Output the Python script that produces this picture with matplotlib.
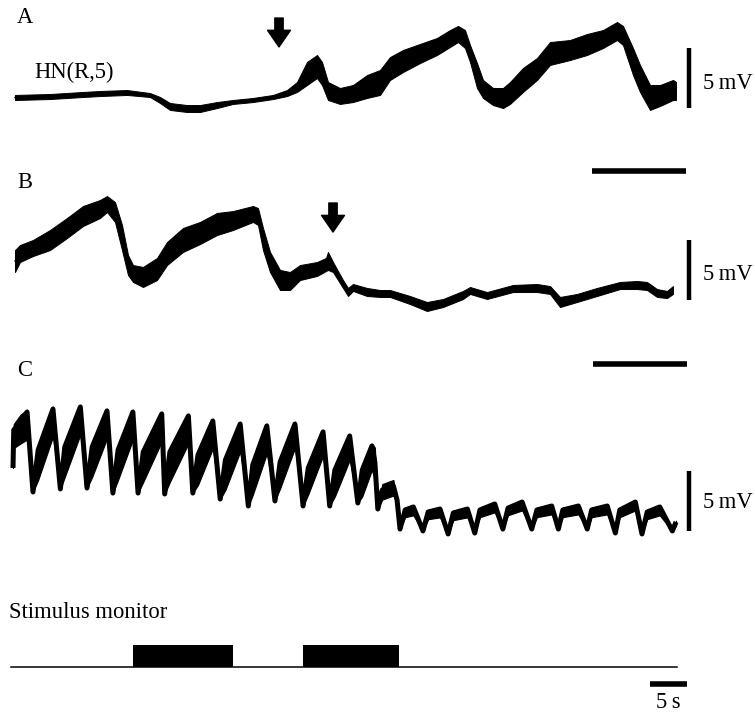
import matplotlib
matplotlib.use("Agg")
import matplotlib.pyplot as plt

plt.rcParams['font.family'] = ['Liberation Serif', 'DejaVu Serif']

# ---------------- data (time in s, membrane potential in mV, relative) ----------------
# Trace A: HN(R,5), envelope of the recorded band (upper / lower edge)
a_time = [0.0, 3.5, 6.8, 8.5, 11.2, 13.5, 14.5, 15.5, 17.2, 18.5, 20.2, 21.8, 23.8, 25.8,
          27.2, 28.2, 29.2, 30.2, 30.7, 31.3, 32.5, 33.8, 35.2, 36.5, 37.5, 38.8, 40.5,
          42.2, 43.5, 44.3, 45.0, 45.5, 46.2, 46.8, 47.8, 48.8, 49.5, 50.8, 52.2, 53.5,
          55.5, 57.2, 58.8, 60.2, 60.8, 61.8, 62.5, 63.5, 64.5, 65.8, 66.1]
a_high = [0.42, 0.5, 0.67, 0.75, 0.83, 0.58, 0.25, -0.25, -0.42, -0.42, -0.17, 0.0, 0.17,
          0.42, 0.83, 1.5, 3.17, 3.75, 3.17, 1.5, 1.0, 1.25, 2.08, 2.5, 3.58, 4.17, 4.67,
          5.17, 5.83, 6.17, 5.83, 4.58, 3.08, 1.67, 1.0, 1.0, 1.5, 2.67, 3.5, 4.83, 5.0,
          5.5, 5.83, 6.5, 6.17, 4.33, 2.92, 1.25, 1.25, 1.67, 1.5]
a_low = [0.0, 0.08, 0.25, 0.33, 0.42, 0.25, -0.25, -0.83, -1.0, -1.0, -0.67, -0.33, -0.17,
         0.08, 0.33, 0.67, 1.25, 1.83, 1.25, 0.0, -0.33, -0.17, 0.17, 0.42, 1.67, 2.33,
         3.08, 3.75, 4.42, 4.83, 4.33, 3.17, 1.0, 0.17, -0.42, -0.67, -0.33, 0.67, 1.67,
         2.92, 3.33, 3.75, 4.33, 5.0, 4.58, 2.08, 0.67, -0.83, -0.5, 0.0, 0.0]
a_arrow_time = 26.4

# Trace B
b_time = [0.0, 0.5, 1.8, 3.5, 5.2, 6.8, 8.5, 9.2, 10.0, 10.7, 11.3, 11.8, 12.8, 14.2, 15.2,
          16.8, 18.5, 20.2, 21.8, 23.8, 24.3, 24.8, 25.5, 26.5, 27.5, 28.5, 30.2, 31.1,
          31.3, 31.8, 32.8, 33.3, 33.8, 35.2, 36.5, 37.5, 39.5, 41.2, 42.8, 44.8, 45.5,
          47.2, 49.8, 52.2, 53.5, 54.5, 56.2, 58.2, 60.5, 62.2, 63.2, 64.2, 65.2, 65.8]
b_high = [3.33, 3.75, 4.17, 5.0, 6.0, 7.0, 7.5, 7.83, 7.33, 5.42, 2.92, 2.08, 1.92, 2.67,
          4.0, 5.17, 5.67, 6.42, 6.58, 7.0, 6.83, 5.17, 3.17, 1.67, 1.5, 2.08, 2.33, 2.67,
          3.17, 2.33, 0.83, 0.17, 0.5, 0.17, 0.0, 0.0, -0.5, -1.0, -0.75, -0.08, 0.25,
          -0.17, 0.42, 0.5, 0.33, -0.58, -0.33, 0.17, 0.67, 0.75, 0.67, 0.08, -0.08, 0.33]
b_low = [1.5, 2.33, 2.83, 3.33, 4.33, 5.33, 6.0, 6.5, 5.67, 3.33, 1.25, 0.67, 0.25, 0.83,
         2.08, 3.17, 3.83, 4.58, 5.0, 5.67, 5.42, 3.33, 1.5, 0.0, 0.0, 0.83, 1.17, 1.58,
         1.67, 1.5, 0.17, -0.5, -0.08, -0.5, -0.58, -0.58, -1.17, -1.75, -1.42, -0.75,
         -0.33, -0.75, -0.17, -0.17, -0.33, -1.42, -1.0, -0.5, 0.08, 0.08, 0.0, -0.58,
         -0.67, -0.33]
b_arrow_time = 31.8

# Trace C (peaks, troughs and knees of the oscillation, in order)
c_time = [0.0, 0.1, 1.0, 1.9, 2.7, 3.4, 5.4, 6.4, 7.0, 9.1, 10.0, 10.7, 12.7, 13.5, 14.2,
          16.2, 16.9, 17.6, 20.1, 20.5, 21.2, 23.7, 24.3, 25.0, 27.0, 28.0, 28.7, 30.7,
          31.8, 32.4, 34.3, 35.4, 36.1, 38.1, 39.2, 39.9, 41.9, 42.8, 43.5, 45.5, 46.6,
          47.2, 48.5, 48.9, 49.3, 49.9, 51.4, 51.9, 52.3, 53.0, 54.1, 55.4, 56.1, 57.7,
          58.8, 59.5, 61.4, 62.4, 63.1, 65.1, 66.2, 66.9, 68.8, 70.1, 70.8, 72.8, 73.7,
          74.3, 76.4, 77.6, 78.2, 80.3, 81.4, 82.0, 84.1, 85.0, 85.7, 87.4, 89.1, 89.6]
c_volt = [5.17, 8.33, 9.0, 9.83, 3.17, 6.67, 10.08, 3.42, 6.92, 10.25, 3.5, 6.92, 9.92,
          3.08, 6.67, 9.83, 3.08, 6.5, 9.67, 3.0, 6.5, 9.5, 3.08, 6.25, 9.08, 2.58, 5.83,
          8.83, 2.0, 5.42, 8.67, 2.42, 5.67, 8.83, 2.0, 5.17, 8.17, 2.0, 5.0, 7.83, 2.25,
          5.0, 7.0, 5.67, 1.75, 3.33, 3.67, 2.5, 0.08, 1.67, 1.92, -0.08, 1.5, 1.75, -0.33,
          1.42, 1.75, -0.25, 1.67, 2.17, 0.08, 1.83, 2.33, 0.08, 1.67, 2.0, 0.08, 1.67,
          2.0, 0.08, 1.67, 2.0, -0.25, 1.67, 2.33, -0.33, 1.5, 1.92, -0.08, 0.67]
# extent of the recorded band above / below those points (mV)
c_spike = [0.0, 0.5, 0.6, 0.2,
           0.0, 0.4, 0.2, 0.0, 0.4, 0.2, 0.0, 0.4, 0.2, 0.0, 0.4, 0.2, 0.0, 0.4, 0.2,
           0.0, 0.4, 0.2, 0.0, 0.4, 0.2, 0.0, 0.4, 0.2, 0.0, 0.4, 0.2, 0.0, 0.4, 0.2,
           0.0, 0.4, 0.2, 0.0, 0.4, 0.2, 0.0, 0.4, 0.2,
           1.2, 0.0, 0.5, 0.5, 0.0,
           0.0, 0.2, 0.1, 0.0, 0.2, 0.1, 0.0, 0.2, 0.1, 0.0, 0.2, 0.1, 0.0, 0.2, 0.1,
           0.0, 0.2, 0.1, 0.0, 0.2, 0.1, 0.0, 0.2, 0.1, 0.0, 0.2, 0.1, 0.0, 0.2, 0.1,
           0.0, 0.1]
c_below = [0.0, 1.5, 1.8, 2.3,
           0.0, 2.5, 2.3, 0.0, 2.5, 2.3, 0.0, 2.5, 2.3, 0.0, 2.5, 2.3, 0.0, 2.5, 2.3,
           0.0, 2.5, 2.3, 0.0, 2.5, 2.3, 0.0, 2.5, 2.3, 0.0, 2.5, 2.3, 0.0, 2.2, 2.0,
           0.0, 2.2, 2.0, 0.0, 2.2, 2.0, 0.0, 2.2, 2.0,
           1.5, 0.0, 0.8, 0.8, 0.0,
           0.0, 0.6, 0.7, 0.0, 0.6, 0.7, 0.0, 0.6, 0.7, 0.0, 0.6, 0.7, 0.0, 0.6, 0.7,
           0.0, 0.6, 0.7, 0.0, 0.6, 0.7, 0.0, 0.6, 0.7, 0.0, 0.6, 0.7, 0.0, 0.6, 0.7,
           0.0, 0.3]

# Stimulus monitor (on/off, same time base as C)
stim_time = [-0.3, 16.2, 16.2, 29.7, 29.7, 39.2, 39.2, 52.2, 52.2, 89.7]
stim_level = [0, 0, 1, 1, 0, 0, 1, 1, 0, 0]

# scale bars
volt_bar = 5.0          # mV
ab_time_bar = 9.4       # s (unlabelled bars of A and B)
c_time_bar = 5.0        # s

# ---------------- layout (pixel mapping of each panel) ----------------
W, H = 755, 714
fig = plt.figure(figsize=(W / 100, H / 100), dpi=100)


def panel(x0_px, px_per_s, y0_px, px_per_unit):
    ax = fig.add_axes([0, 0, 1, 1])
    ax.set_xlim(-x0_px / px_per_s, (W - x0_px) / px_per_s)
    ax.set_ylim((y0_px - H) / px_per_unit, y0_px / px_per_unit)
    ax.axis('off')
    ax.patch.set_alpha(0)
    return ax


axA = panel(15, 10.0, 100, 12.0)
axB = panel(15, 10.0, 290, 12.0)
axC = panel(13, 7.4, 530, 12.0)
axS = panel(13, 7.4, 667, 22.0)

ink = 'black'
fs = 16.3

# traces A and B
for ax, t, hi, lo in [(axA, a_time, a_high, a_low), (axB, b_time, b_high, b_low)]:
    ax.fill_between(t, lo, hi, color=ink, lw=0.7)
    ax.plot(t, [(h + l) / 2 for h, l in zip(hi, lo)], color=ink, lw=1.0)

# trace C: band (with spike bursts) plus the core line
axC.fill_between(c_time, [v - b for v, b in zip(c_volt, c_below)],
                 [v + s for v, s in zip(c_volt, c_spike)], color=ink, lw=0.8)
axC.plot(c_time, c_volt, color=ink, lw=3.6, solid_joinstyle='round', solid_capstyle='butt')

# stimulus monitor
axS.fill_between(stim_time, 0, stim_level, color=ink, lw=0)
axS.plot(stim_time, [0] * len(stim_time), color=ink, lw=1.1)

# vertical 5 mV bars
axA.plot([67.4, 67.4], [-0.67, -0.67 + volt_bar], color=ink, lw=3.2, solid_capstyle='butt')
axB.plot([67.4, 67.4], [-0.83, -0.83 + volt_bar], color=ink, lw=3.2, solid_capstyle='butt')
axC.plot([91.35, 91.35], [-0.1, -0.1 + volt_bar], color=ink, lw=3.2, solid_capstyle='butt')
for ax, xt, yt in [(axA, 68.8, 0.9), (axB, 68.8, 0.85), (axC, 93.2, 1.8)]:
    ax.text(xt, yt, '5\u2009mV', fontsize=fs, va='baseline', ha='left')

# horizontal time bars
axA.plot([57.7, 57.7 + ab_time_bar], [-5.92, -5.92], color=ink, lw=4, solid_capstyle='butt')
axB.plot([57.8, 57.8 + ab_time_bar], [-6.17, -6.17], color=ink, lw=4, solid_capstyle='butt')
axS.plot([86.1, 86.1 + c_time_bar], [-0.75, -0.75], color=ink, lw=4, solid_capstyle='butt')
axS.text(86.1 + c_time_bar / 2, -2.1, '5\u2009s', fontsize=fs, ha='center', va='bottom')

# arrows marking stimulus onset
arrow_style = 'simple,head_length=1.2,head_width=1.65,tail_width=0.6'
axA.annotate('', xy=(a_arrow_time, 4.42), xytext=(a_arrow_time, 6.83),
             arrowprops=dict(arrowstyle=arrow_style, color=ink, shrinkA=0, shrinkB=0,
                             mutation_scale=10))
axB.annotate('', xy=(b_arrow_time, 4.83), xytext=(b_arrow_time, 7.25),
             arrowprops=dict(arrowstyle=arrow_style, color=ink, shrinkA=0, shrinkB=0,
                             mutation_scale=10))

# labels
def ftext(xp, yp, s, **kw):
    fig.text(xp / W, 1 - yp / H, s, fontsize=fs, va='baseline', **kw)

ftext(17, 23, 'A')
ftext(34, 78, 'HN(R,5)')
ftext(17, 188, 'B')
ftext(17, 376, 'C')
ftext(9, 618, 'Stimulus monitor')

fig.savefig('out.png', dpi=100)
